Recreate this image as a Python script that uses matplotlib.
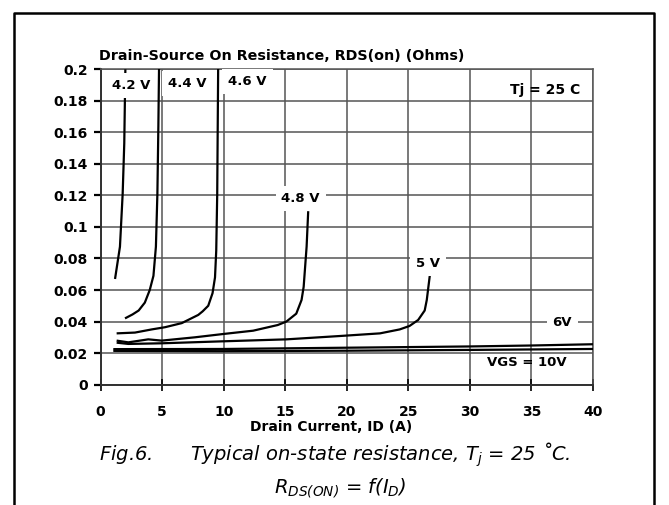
"""Fig.6 - typical on-state resistance vs drain current, Tj = 25 C."""
import matplotlib
matplotlib.use("Agg")
import matplotlib.pyplot as plt
from matplotlib.lines import Line2D

plt.rcParams["font.family"] = ["DejaVu Sans"]
plt.rcParams["mathtext.fontset"] = "custom"
plt.rcParams["mathtext.rm"] = "DejaVu Sans:italic"
plt.rcParams["mathtext.it"] = "DejaVu Sans:italic"

# curves: drain current (A) -> RDS(on) (Ohms)
id_42 = [1.18, 1.58, 1.80, 1.93, 1.99, 2.02]
rds_42 = [0.067, 0.0875, 0.121, 0.153, 0.185, 0.200]

id_44 = [1.99, 2.6, 3.1, 3.6, 4.0, 4.3, 4.5, 4.62, 4.70, 4.76]
rds_44 = [0.042, 0.0445, 0.047, 0.052, 0.060, 0.069, 0.0875, 0.121, 0.164, 0.205]

id_46 = [1.31, 2.8, 4.16, 5.24, 6.6, 7.94, 8.3, 8.75, 9.1, 9.3, 9.4, 9.48, 9.56]
rds_46 = [0.0325, 0.033, 0.035, 0.0364, 0.039, 0.0442, 0.0465, 0.050, 0.058,
          0.068, 0.085, 0.121, 0.205]

id_48 = [1.31, 2.26, 3.88, 4.97, 7.67, 9.97, 12.4, 14.4, 15.1, 15.9, 16.33,
         16.5, 16.74, 16.87]
rds_48 = [0.0279, 0.0268, 0.0287, 0.0279, 0.030, 0.0321, 0.0342, 0.0378, 0.040,
          0.045, 0.0537, 0.062, 0.0875, 0.110]

id_5 = [1.31, 2.26, 4.97, 9.7, 15.1, 19.4, 22.7, 24.3, 25.1, 25.8, 26.33, 26.5,
        26.75]
rds_5 = [0.0266, 0.0258, 0.0262, 0.0274, 0.0287, 0.0308, 0.0325, 0.035, 0.0372,
         0.041, 0.047, 0.0537, 0.0695]

id_6 = [1.04, 10, 20, 30, 35, 40]
rds_6 = [0.0225, 0.0226, 0.0234, 0.0242, 0.0248, 0.0256]

id_10 = [1.04, 10, 20, 30, 40]
rds_10 = [0.0214, 0.0212, 0.0215, 0.0220, 0.0226]

curves = [(id_42, rds_42), (id_44, rds_44), (id_46, rds_46), (id_48, rds_48),
          (id_5, rds_5), (id_6, rds_6), (id_10, rds_10)]

x_ticks = [0, 5, 10, 15, 20, 25, 30, 35, 40]
y_ticks = [0, 0.02, 0.04, 0.06, 0.08, 0.1, 0.12, 0.14, 0.16, 0.18, 0.2]
y_tick_labels = ["0", "0.02", "0.04", "0.06", "0.08", "0.1", "0.12", "0.14",
                 "0.16", "0.18", "0.2"]

W, H = 669, 505
fig = plt.figure(figsize=(W / 100, H / 100), dpi=100)
ax = fig.add_axes([100.5 / W, 1 - 384.6 / H, 492.5 / W, 315.3 / H])

grid_c = "#555555"
for x, y in curves:
    ax.plot(x, y, color="black", lw=1.6, zorder=3, solid_capstyle="butt")

ax.set_xlim(0, 40)
ax.set_ylim(0, 0.2)
ax.set_xticks(x_ticks)
ax.set_yticks(y_ticks)
ax.set_yticklabels(y_tick_labels)
ax.grid(True, color=grid_c, lw=1.1, zorder=1)
ax.set_axisbelow(True)
for s in ("top", "right"):
    ax.spines[s].set_color(grid_c)
    ax.spines[s].set_linewidth(1.1)
for s in ("left", "bottom"):
    ax.spines[s].set_color("#303030")
    ax.spines[s].set_linewidth(1.4)
ax.tick_params(axis="y", direction="out", length=5, width=1.6, pad=4,
               labelsize=10)
ax.tick_params(axis="x", direction="inout", length=9, width=1.2, pad=10,
               labelsize=10)
for lab in ax.get_xticklabels() + ax.get_yticklabels():
    lab.set_fontweight("bold")

box = dict(boxstyle="square,pad=0.45", fc="white", ec="none")
lbl = dict(fontsize=9.5, fontweight="bold", ha="center", va="center", zorder=5)
ax.text(2.47, 0.190, "4.2 V", bbox=box, **lbl)
ax.text(7.06, 0.191, "4.4 V", bbox=box, **lbl)
ax.text(11.93, 0.192, "4.6 V", bbox=box, **lbl)
ax.text(16.26, 0.118, "4.8 V", bbox=box, **lbl)
ax.text(26.6, 0.077, "5 V", bbox=box, **lbl)
ax.text(37.5, 0.0393, "6V", bbox=box, **lbl)
ax.text(34.6, 0.0139, "VGS = 10V", **lbl)
ax.text(36.1, 0.187, "Tj = 25 C", fontsize=10, fontweight="bold",
        ha="center", va="center", zorder=5)

fig.text(99 / W, 1 - 56 / H, "Drain-Source On Resistance, RDS(on) (Ohms)",
         fontsize=10.3, fontweight="bold", ha="left", va="center")
fig.text(331 / W, 1 - 427 / H, "Drain Current, ID (A)",
         fontsize=10, fontweight="bold", ha="center", va="center")

fig.text(335 / W, 1 - 455 / H,
         "Fig.6.      Typical on-state resistance, $T_j$ = 25 ˚C.",
         fontsize=14, style="italic", ha="center", va="center")
fig.text(340 / W, 1 - 488 / H, "$R_{DS(ON)}$ = f($I_D$)",
         fontsize=14, style="italic", ha="center", va="center")

# outer frame (open at the bottom)
fx = [14 / W, 14 / W, 654 / W, 654 / W]
fy = [0, 1 - 13 / H, 1 - 13 / H, 0]
fig.add_artist(Line2D(fx, fy, color="black", lw=1.8))

fig.savefig("out.png", dpi=100)
